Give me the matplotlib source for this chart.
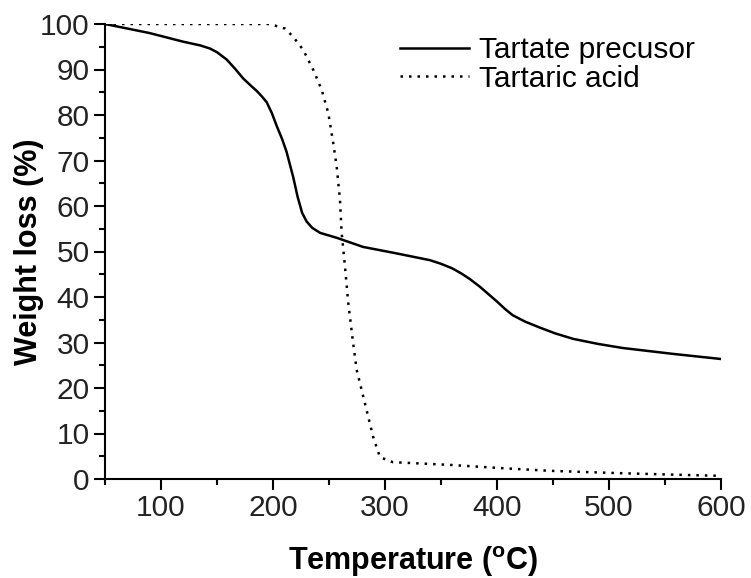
import numpy as np
import matplotlib
matplotlib.use("Agg")
import matplotlib.pyplot as plt
from matplotlib.ticker import MultipleLocator

plt.rcParams['font.family'] = ['Liberation Sans', 'DejaVu Sans']

# TGA curves
temp_precursor = [50, 70, 90, 120, 135, 143.8, 150, 158.6, 166, 173.5, 180, 185.4, 190, 194.4, 199,
                  203.3, 208, 212, 218, 222, 226, 230, 235, 242, 257, 280.5, 310, 340, 350, 360,
                  368, 376, 385, 392, 400, 407, 414, 425, 438, 452, 468, 490, 512, 557, 599]
wt_precursor = [100, 99.0, 98.0, 96.1, 95.3, 94.6, 93.8, 92.2, 90.2, 88.0, 86.5, 85.3, 84.1, 82.8, 80.4,
                77.6, 74.8, 72.0, 66.4, 62.0, 58.5, 56.6, 55.2, 54.1, 53.0, 51.0, 49.6, 48.1, 47.3, 46.3,
                45.2, 43.9, 42.2, 40.7, 39.0, 37.4, 36.0, 34.6, 33.3, 32.0, 30.8, 29.7, 28.8, 27.5, 26.4]

temp_acid = [50, 197, 210.7, 218, 227, 236, 243.5, 249.4, 253.8, 256.9, 259.8, 261.3, 264.3,
             267.2, 271.2, 274.7, 282, 289.5, 295.5, 307, 358, 403, 447, 507, 566, 599]
wt_acid = [100, 100, 99.0, 97.2, 94.3, 89.9, 85.5, 80.4, 73.8, 68.6, 61.3, 54.1, 46.6,
           38.7, 30.5, 24.0, 16.7, 9.2, 4.8, 3.7, 3.1, 2.4, 1.8, 1.3, 0.9, 0.7]

labels = ['Tartate precusor', 'Tartaric acid']

fig = plt.figure(figsize=(7.51, 5.78), dpi=100)
ax = fig.add_axes([105 / 751, 1 - 479 / 578, (721 - 105) / 751, (479 - 24) / 578])

ax.plot(temp_precursor, wt_precursor, color='black', lw=1.8, label=labels[0])
ax.plot(temp_acid, wt_acid, color='black', lw=1.8, linestyle=(0, (1, 2.4)), label=labels[1])

ax.set_xlim(50, 600)
ax.set_ylim(0, 100)
ax.xaxis.set_major_locator(MultipleLocator(100))
ax.xaxis.set_minor_locator(MultipleLocator(50))
ax.yaxis.set_major_locator(MultipleLocator(10))
ax.yaxis.set_minor_locator(MultipleLocator(5))

for side in ['top', 'right']:
    ax.spines[side].set_visible(False)
for side in ['left', 'bottom']:
    ax.spines[side].set_linewidth(1.5)

ax.tick_params(which='major', direction='out', length=8, width=1.5, labelsize=21.5, pad=3,
               labelcolor='#222222')
ax.tick_params(which='minor', direction='out', length=4, width=1.5)

ax.set_xlabel('Temperature ($\\mathregular{^{o}}$C)', fontsize=22, fontweight='bold', labelpad=16)
ax.set_ylabel('Weight loss (%)', fontsize=22, fontweight='bold', labelpad=-3)

ax.legend(loc='upper left', bbox_to_anchor=(400 / 751, 1 - 36 / 578), bbox_transform=fig.transFigure,
          frameon=False, fontsize=21.5, handlelength=2.3, handletextpad=0.35, borderpad=0,
          borderaxespad=0, labelspacing=0.02)

fig.savefig('out.png', dpi=100)
